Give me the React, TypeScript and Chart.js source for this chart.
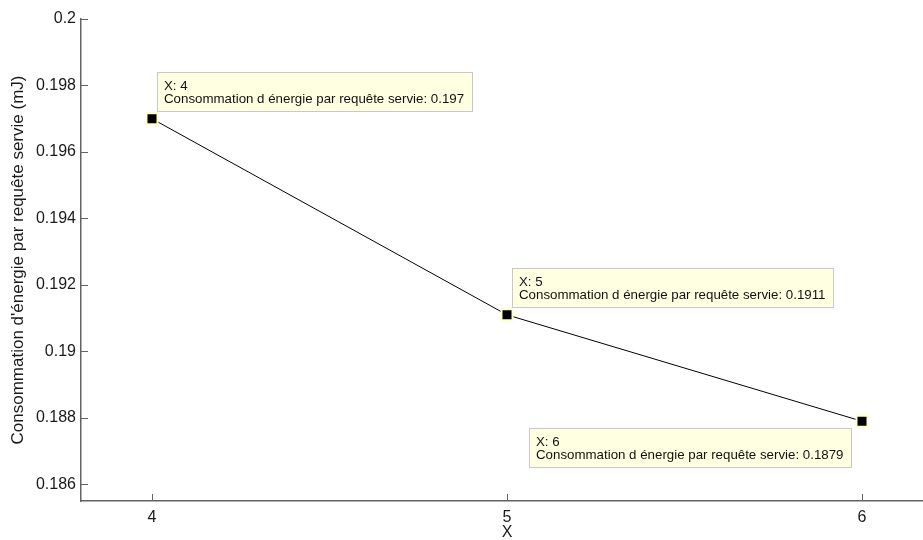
import React, { useEffect, useRef } from 'react';
import { Chart, registerables } from 'chart.js';

Chart.register(...registerables);

const xValues = [4, 5, 6];
const energyValues = [0.197, 0.1911, 0.1879];
const xTicks = [4, 5, 6];
const yTicks = [0.186, 0.188, 0.19, 0.192, 0.194, 0.196, 0.198, 0.2];
const yAxisLabel = "Consommation d'énergie par requête servie (mJ)";
const xAxisLabel = 'X';
const tipLabel = 'Consommation d énergie par requête servie';
const tipSides = ['ne', 'ne', 'sw'];

const FONT = '"Liberation Sans", Arial, Helvetica, sans-serif';
const AXIS_COLOR = '#636363';
const TEXT_COLOR = '#1a1a1a';

const fmt = (v: number) => String(Number(v.toFixed(4)));

const innerTicks = {
  id: 'innerTicks',
  afterDraw(chart: any) {
    const { ctx, chartArea } = chart;
    const xs = chart.scales.x;
    const ys = chart.scales.y;
    ctx.save();
    ctx.strokeStyle = AXIS_COLOR;
    ctx.lineWidth = 1;
    const len = 7;
    xs.ticks.forEach((t: any) => {
      const px = Math.round(xs.getPixelForValue(t.value)) + 0.5;
      ctx.beginPath();
      ctx.moveTo(px, chartArea.bottom);
      ctx.lineTo(px, chartArea.bottom - len);
      ctx.stroke();
    });
    ys.ticks.forEach((t: any) => {
      const py = Math.round(ys.getPixelForValue(t.value)) + 0.5;
      ctx.beginPath();
      ctx.moveTo(chartArea.left, py);
      ctx.lineTo(chartArea.left + len, py);
      ctx.stroke();
    });
    ctx.restore();
  },
};

const dataTips = {
  id: 'dataTips',
  afterDatasetsDraw(chart: any) {
    const { ctx } = chart;
    const meta = chart.getDatasetMeta(0);
    ctx.save();
    ctx.font = `13.3px ${FONT}`;
    meta.data.forEach((pt: any, i: number) => {
      const line1 = `X: ${xValues[i]}`;
      const line2 = `${tipLabel}: ${fmt(energyValues[i])}`;
      const w = Math.ceil(Math.max(ctx.measureText(line1).width, ctx.measureText(line2).width)) + 15;
      const h = 40;
      let left: number;
      let top: number;
      if (tipSides[i] === 'ne') {
        left = Math.round(pt.x) + 5;
        top = Math.round(pt.y) - 47;
      } else {
        left = Math.round(pt.x) - 10 - w;
        top = Math.round(pt.y) + 7;
      }
      ctx.fillStyle = '#ffffe1';
      ctx.fillRect(left, top, w, h);
      ctx.strokeStyle = '#c8c8c8';
      ctx.lineWidth = 1;
      ctx.strokeRect(left + 0.5, top + 0.5, w - 1, h - 1);
      ctx.fillStyle = '#111111';
      ctx.textBaseline = 'middle';
      ctx.textAlign = 'left';
      ctx.fillText(line1, left + 7, top + 14);
      ctx.fillText(line2, left + 7, top + 27);
    });
    ctx.restore();
  },
};

export default function App() {
  const ref = useRef<HTMLCanvasElement | null>(null);

  useEffect(() => {
    if (!ref.current) return;
    const chart = new Chart(ref.current, {
      type: 'line',
      data: {
        datasets: [
          {
            data: xValues.map((x, i) => ({ x, y: energyValues[i] })),
            borderColor: '#000000',
            borderWidth: 1,
            pointStyle: 'rect',
            pointRadius: 7.8,
            pointHoverRadius: 7.8,
            pointBackgroundColor: '#000000',
            pointBorderColor: '#ffffc8',
            pointBorderWidth: 2,
            tension: 0,
            fill: false,
            clip: false,
          },
        ],
      },
      options: {
        responsive: false,
        animation: false,
        events: [],
        layout: { autoPadding: false, padding: { top: 19, left: 0, right: 0, bottom: 0 } },
        plugins: {
          legend: { display: false },
          tooltip: { enabled: false },
          title: { display: false },
        },
        scales: {
          x: {
            type: 'linear',
            min: 3.8,
            max: 6.2,
            afterBuildTicks: (s: any) => {
              s.ticks = xTicks.map((v) => ({ value: v }));
            },
            afterFit: (s: any) => {
              s.height = 39;
              s.paddingLeft = 0;
              s.paddingRight = 0;
            },
            grid: { display: false, drawTicks: false },
            border: { display: true, color: AXIS_COLOR, width: 1.5 },
            ticks: {
              padding: 7,
              color: TEXT_COLOR,
              font: { family: FONT, size: 16 },
              callback: (v: any) => fmt(Number(v)),
              maxRotation: 0,
            },
            title: {
              display: true,
              text: xAxisLabel,
              color: TEXT_COLOR,
              font: { family: FONT, size: 16 },
              padding: { top: 0, bottom: -2 },
            },
          },
          y: {
            type: 'linear',
            min: 0.1855,
            max: 0.2,
            afterBuildTicks: (s: any) => {
              s.ticks = yTicks.map((v) => ({ value: v }));
            },
            afterFit: (s: any) => {
              s.width = 81;
              s.paddingTop = 0;
              s.paddingBottom = 0;
            },
            grid: { display: false, drawTicks: false },
            border: { display: true, color: AXIS_COLOR, width: 1.5 },
            ticks: {
              padding: 5,
              color: TEXT_COLOR,
              font: { family: FONT, size: 16 },
              callback: (v: any) => fmt(Number(v)),
            },
            title: {
              display: true,
              text: yAxisLabel,
              color: TEXT_COLOR,
              font: { family: FONT, size: 17 },
              padding: { top: 8, bottom: 0 },
            },
          },
        },
      },
      plugins: [innerTicks, dataTips],
    } as any);
    return () => chart.destroy();
  }, []);

  return (
    <div
      style={{
        position: 'fixed',
        left: 0,
        top: 0,
        width: 923,
        height: 540,
        overflow: 'hidden',
        background: '#ffffff',
      }}
    >
      <div style={{ width: 933, height: 540 }}>
        <canvas ref={ref} width={933} height={540} style={{ display: 'block', width: 933, height: 540 }} />
      </div>
    </div>
  );
}
